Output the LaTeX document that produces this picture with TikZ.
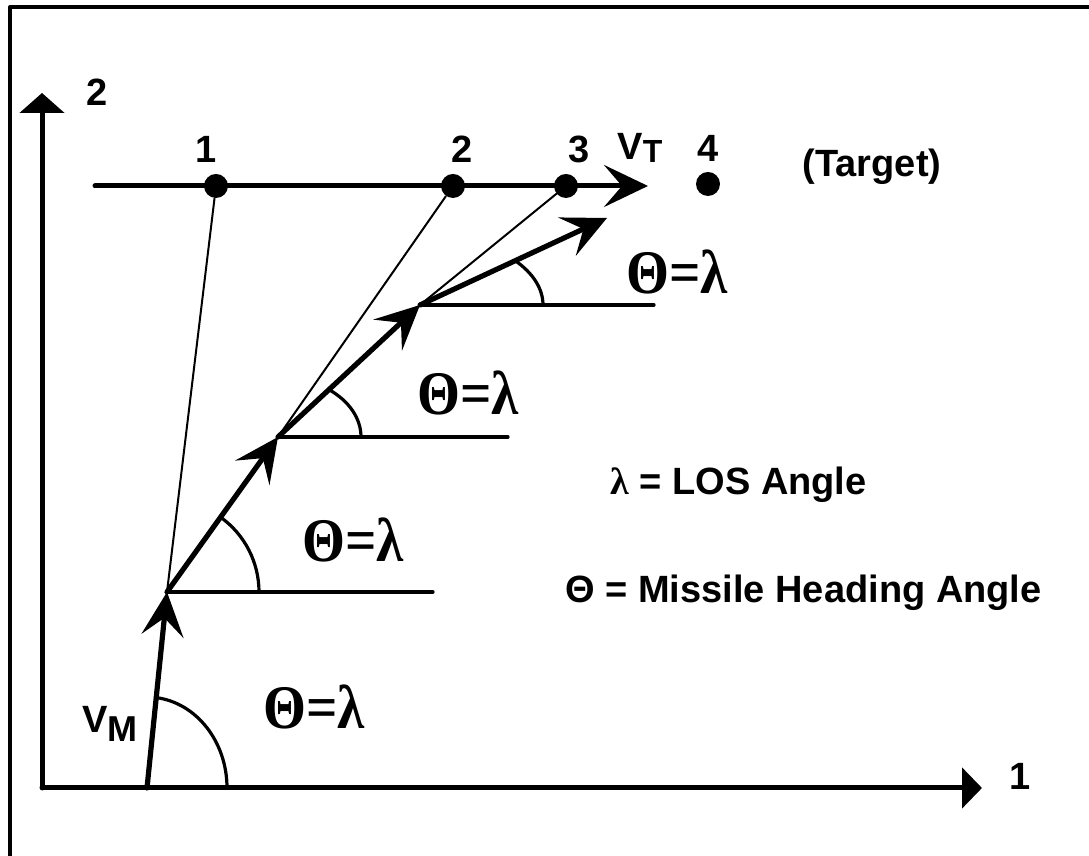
\documentclass[tikz,border=0pt]{standalone}
\usepackage{fontspec}
\setmainfont{Liberation Sans}
\newfontfamily\serifb{Liberation Serif}
\usetikzlibrary{arrows.meta,calc}
\begin{document}
\begin{tikzpicture}[x=0.5pt,y=0.5pt,line cap=round,line join=round,
  frameline/.style={line width=2pt},
  axisline/.style={line width=2.5pt},
  pathline/.style={line width=2.6pt},
  losline/.style={line width=1pt},
  refline/.style={line width=1.6pt},
  anglearc/.style={line width=1.6pt},
  barbtip/.style={-{Stealth[length=22pt,width=21pt,inset=9pt]}},
  dotnode/.style={circle,fill=black,inner sep=0pt,minimum size=12pt},
  lab/.style={inner sep=0pt,font=\bfseries\fontsize{19}{20}\selectfont},
  eqlab/.style={inner sep=0pt,font=\serifb\bfseries\fontsize{31}{32}\selectfont}]
\useasboundingbox (0,0) rectangle (1089,856);
% frame
\draw[frameline] (10,0) -- (10,849) -- (1089,849);
% axes
\coordinate (orig) at (42,68);
\coordinate (ytip) at (42,763);
\coordinate (xtip) at (982,68);
\draw[axisline,-{Triangle[length=10pt,width=22pt]}] (orig) -- (ytip);
\draw[axisline,-{Triangle[length=10pt,width=20pt]}] (orig) -- (xtip);
\node[lab] (ylab) at (97,764) {2};
\node[lab] (xlab) at (1020,80) {1};
% target line
\coordinate (ts) at (95,670);
\coordinate (te) at (648,670);
\draw[axisline,barbtip] (ts) -- (te);
\node[dotnode] (T1) at (216,670) {};
\node[dotnode] (T2) at (453,670) {};
\node[dotnode] (T3) at (566,670) {};
\node[dotnode] (T4) at (708,672) {};
\node[lab,anchor=base] (l1) at (206,693) {1};
\node[lab,anchor=base] (l2) at (462,693) {2};
\node[lab,anchor=base] (l3) at (579,693) {3};
\node[lab,anchor=base] (l4) at (708,694) {4};
\node[lab,anchor=base west] (vt) at (617,696) {V\raisebox{-1.5pt}{\fontsize{16}{16}\selectfont T}};
\node[lab] (tgt) at (872,689) {(Target)};
% missile path
\coordinate (O) at (147,68);
\coordinate (A) at (167,264);
\coordinate (B) at (278,419);
\coordinate (C) at (420,551);
\coordinate (D) at (607,638);
% LOS lines
\draw[losline] (A) -- (T1);
\draw[losline] (B) -- (T2);
\draw[losline] (C) -- (T3);
% reference lines
\coordinate (Ae) at (433,264);
\coordinate (Be) at (508,419);
\coordinate (Ce) at (654,551);
\draw[refline] (A) -- (Ae);
\draw[refline] (B) -- (Be);
\draw[refline] (C) -- (Ce);
% arcs
\draw[anglearc] ($(O)+(80,0)$) arc[start angle=0,end angle=83.4,x radius=80,y radius=91];
\draw[anglearc] ($(A)+(92,0)$) arc[start angle=0,end angle=54.4,radius=92];
\draw[anglearc] ($(B)+(83,0)$) arc[start angle=0,end angle=52.1,x radius=83,y radius=60];
\draw[anglearc] ($(C)+(123,0)$) arc[start angle=0,end angle=39.2,x radius=123,y radius=70];
% path segments
\draw[pathline,barbtip] (O) -- (A);
\draw[pathline,barbtip] (A) -- (B);
\draw[pathline,barbtip] (B) -- (C);
\draw[pathline,barbtip] (C) -- (D);
\node[lab,anchor=base west] (vm) at (82,123) {V\raisebox{-4.5pt}{\fontsize{18}{18}\selectfont M}};
% angle labels
\node[eqlab] (e1) at (314,149) {\scalebox{0.89}[1]{Θ=λ}};
\node[eqlab] (e2) at (353,316) {\scalebox{0.89}[1]{Θ=λ}};
\node[eqlab] (e3) at (468,463) {\scalebox{0.89}[1]{Θ=λ}};
\node[eqlab] (e4) at (677,584) {\scalebox{0.89}[1]{Θ=λ}};
% legend
\node[lab,anchor=base west] (leg1) at (610,361) {{\serifb\bfseries λ} = LOS Angle};
\node[lab,anchor=base west] (leg2) at (565,253) {Θ = Missile Heading Angle};
\end{tikzpicture}
\end{document}
